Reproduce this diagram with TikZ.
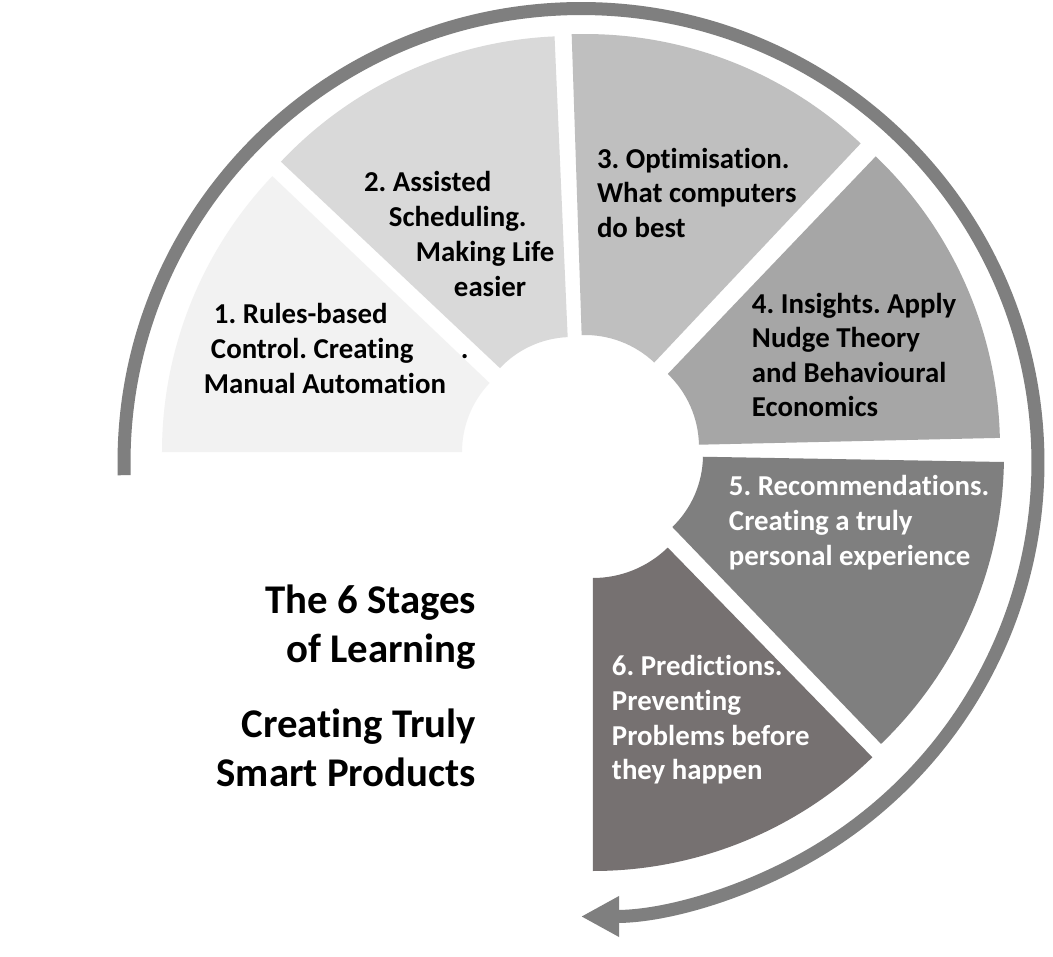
\documentclass[tikz,border=0pt]{standalone}
\usepackage{fontspec}
\setmainfont{Carlito}[Ligatures={NoCommon}]
\usetikzlibrary{arrows.meta}
\definecolor{sa}{HTML}{F2F2F2}
\definecolor{sb}{HTML}{D9D9D9}
\definecolor{sc}{HTML}{BFBFBF}
\definecolor{sd}{HTML}{A6A6A6}
\definecolor{se}{HTML}{7F7F7F}
\definecolor{sf}{HTML}{767171}
\definecolor{ringgray}{HTML}{7F7F7F}
\newcommand{\ringsector}[6]{% colour, apex, start, end, inner, outer
  \fill[#1] (#2) ++(#3:#5) -- ++(#3:{#6-#5}) arc[start angle=#3, end angle=#4, radius=#6]
    -- ++({#4+180}:{#6-#5}) arc[start angle=#4, end angle=#3, radius=#5] -- cycle;}
\tikzset{
  lbl/.style={anchor=base west, inner sep=0pt, outer sep=0pt, text=black,
    font=\frenchspacing\bfseries\fontsize{8.2pt}{10pt}\selectfont},
  lblw/.style={lbl, text=white},
  ttl/.style={anchor=base east, inner sep=0pt, outer sep=0pt, text=black,
    font=\frenchspacing\bfseries\fontsize{11.6pt}{14pt}\selectfont},
  ring/.style={draw=ringgray, line width=0.13cm, -{Triangle[length=0.38cm,width=0.38cm]}}
}
\begin{document}
\frenchspacing
\begin{tikzpicture}[x=0.01cm,y=0.01cm]
\useasboundingbox (0,0) rectangle (1053,956);
\fill[white] (0,0) rectangle (1053,956);
% apexes
\coordinate (A1) at (562,504);
\coordinate (A2) at (572,520);
\coordinate (A3) at (585,520);
\coordinate (A4) at (598,509);
\coordinate (A5) at (603,501);
\coordinate (A6) at (593,485);
\coordinate (C) at (581,493.5);
% sectors
\ringsector{sa}{A1}{136.4}{180}{100}{400}
\ringsector{sb}{A2}{92.5}{136.7}{99}{400}
\ringsector{sc}{A3}{46.7}{91.9}{101}{402}
\ringsector{sd}{A4}{1.3}{46.3}{101}{402}
\ringsector{se}{A5}{-46.1}{-1.0}{100}{401}
\ringsector{sf}{A6}{-90}{-45.7}{107}{400}
% ring arrow
\draw[ring] (C) ++(181.6:457 and 454) arc[start angle=181.6, end angle=-90, x radius=457, y radius=454];
% sector 1
\node[lbl] (t1a) at (214,633) {1. Rules-based};
\node[lbl] (t1b) at (211,598) {Control. Creating};
\node[lbl] (t1c) at (204,563) {Manual Automation};
\node[lbl] (t1d) at (461,598) {.};
% sector 2
\node[lbl] (t2a) at (364,765) {2. Assisted};
\node[lbl] (t2b) at (389,729.5) {Scheduling.};
\node[lbl] (t2c) at (416,694.5) {Making Life};
\node[lbl] (t2d) at (454,660) {easier};
% sector 3
\node[lbl] (t3a) at (597,787.7) {3. Optimisation.};
\node[lbl] (t3b) at (597,753.3) {What computers};
\node[lbl] (t3c) at (597,718.7) {do best};
% sector 4
\node[lbl] (t4a) at (752,642.7) {4. Insights. Apply};
\node[lbl] (t4b) at (752,608.3) {Nudge Theory};
\node[lbl] (t4c) at (752,574) {and Behavioural};
\node[lbl] (t4d) at (752,539.3) {Economics};
% sector 5
\node[lblw] (t5a) at (729,461) {5. Recommendations.};
\node[lblw] (t5b) at (729,426) {Creating a truly};
\node[lblw] (t5c) at (729,391) {personal experience};
% sector 6
\node[lblw] (t6a) at (612,280.3) {6. Predictions.};
\node[lblw] (t6b) at (612,246) {Preventing};
\node[lblw] (t6c) at (612,211) {Problems before};
\node[lblw] (t6d) at (612,176.7) {they happen};
% title
\node[ttl] (ta) at (476,342.7) {The 6 Stages};
\node[ttl] (tb) at (476,293.7) {of Learning};
\node[ttl] (tc) at (476,218.7) {Creating Truly};
\node[ttl] (td) at (476,169.3) {Smart Products};
\end{tikzpicture}
\end{document}
